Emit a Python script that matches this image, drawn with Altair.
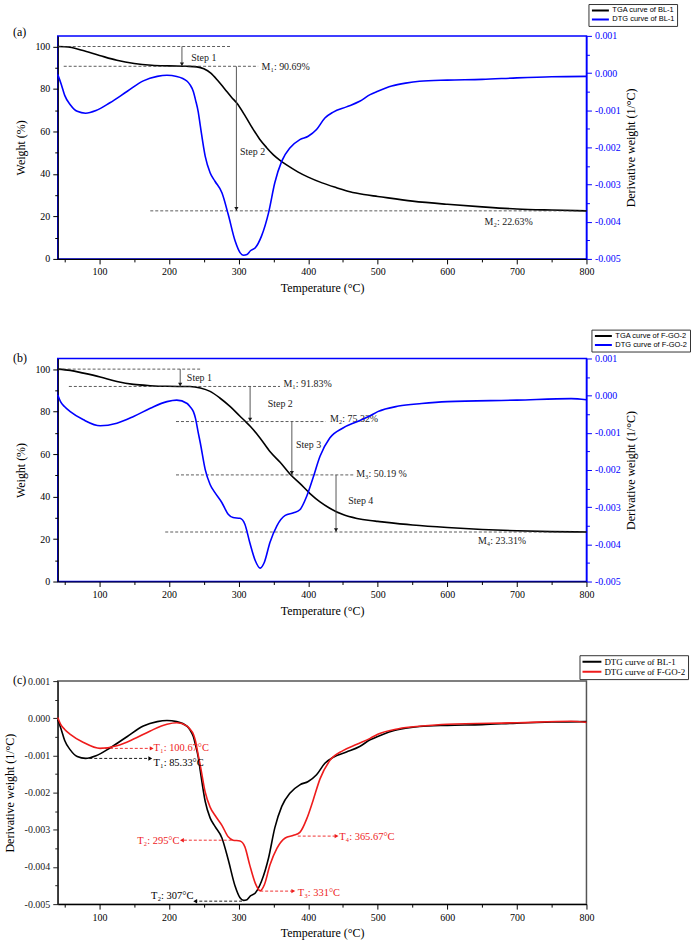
import altair as alt
import pandas as pd

SERIF = "Liberation Serif"
SANS = "Liberation Sans"
BLUE = "#0000ff"
RED = "#ee1c1c"
INK = "#1a1a1a"

# ---------------- BL-1 ----------------
bl_tga_temp = [40, 50, 60, 75, 100, 125, 150, 175, 200, 225, 240, 250, 260, 270, 280,
               290, 297, 310, 320, 330, 340, 350, 360, 370, 385, 400, 420, 440, 460,
               480, 500, 550, 600, 650, 700, 750, 800]
bl_tga_weight = [100, 99.9, 99.5, 98.2, 95.8, 93.5, 92.0, 91.2, 90.9, 90.7, 90.4, 89.5,
                 87.5, 84.0, 80.0, 76.0, 73.5, 67.0, 61.5, 56.5, 52.5, 49.0, 46.3, 44.0,
                 41.0, 38.5, 35.8, 33.6, 31.6, 30.3, 29.4, 27.2, 25.7, 24.5, 23.5, 23.0,
                 22.63]
bl_dtg_temp = [40, 45, 50, 58, 68, 80, 95, 115, 140, 163, 183, 197, 211, 226, 230, 235,
               238, 242, 245, 252, 259, 266, 276, 285, 295, 302, 307, 312, 317, 324, 333,
               343, 352, 362, 374, 388, 400, 412, 424, 436, 455, 474, 489, 500, 520, 540,
               560, 600, 650, 700, 750, 800]
bl_dtg = [-0.00004, -0.0003, -0.0006, -0.00085, -0.00103, -0.00108, -0.00101, -0.0008,
          -0.00049, -0.00021, -0.00009, -0.00006, -0.00009, -0.00022, -0.00031, -0.0005,
          -0.00072, -0.00105, -0.00143, -0.00224, -0.00268, -0.00291, -0.00322, -0.0038,
          -0.00452, -0.00483, -0.0049, -0.00488, -0.00478, -0.0047, -0.00438, -0.00376,
          -0.00295, -0.00237, -0.00201, -0.00179, -0.0017, -0.00152, -0.00121, -0.00105,
          -0.00091, -0.00076, -0.00058, -0.00049, -0.00035, -0.00027, -0.00022, -0.00019,
          -0.00017, -0.00013, -0.0001, -0.00009]

# ---------------- F-GO-2 ----------------
fgo_tga_temp = [40, 58, 77, 101, 125, 149, 173, 197, 230, 245, 259, 273, 288, 302, 310,
                317, 331, 345, 360, 374, 388, 403, 417, 431, 450, 470, 489, 500, 550, 600,
                650, 700, 750, 800]
fgo_tga_weight = [100, 99.4, 98.1, 96.3, 94.2, 92.8, 92.2, 91.9, 91.8, 91.1, 89.5, 86.4,
                  82.3, 77.8, 75.3, 73.0, 67.5, 61.2, 56.0, 50.5, 46.2, 41.3, 37.5, 34.5,
                  31.5, 29.7, 28.7, 28.3, 26.6, 25.4, 24.5, 23.9, 23.5, 23.31]
fgo_dtg_temp = [40, 44, 50, 58, 77, 101, 125, 149, 173, 197, 211, 226, 230, 235, 238, 242,
                245, 252, 259, 266, 276, 285, 292, 302, 309, 316, 324, 331, 337, 345, 355,
                367, 379, 388, 398, 407, 417, 431, 450, 470, 489, 500, 530, 563, 600, 700,
                778, 800]
fgo_dtg = [0.00002, -0.00016, -0.0003, -0.00043, -0.00065, -0.00081, -0.00074, -0.00056,
           -0.00034, -0.00016, -0.00012, -0.00021, -0.00029, -0.00043, -0.00061, -0.001,
           -0.00128, -0.00199, -0.00239, -0.00261, -0.00288, -0.00319, -0.00328, -0.0033,
           -0.00346, -0.00395, -0.00444, -0.00464, -0.00448, -0.00395, -0.0035, -0.00322,
           -0.00315, -0.00307, -0.0027, -0.00221, -0.00163, -0.00114, -0.00087, -0.0007,
           -0.00054, -0.00043, -0.00028, -0.00021, -0.00016, -0.00012, -0.00008, -0.00011]

# ---------------- annotations, panel (a) ----------------
a_level_y = [100, 90.69, 22.63]
a_level_from = [40, 48.6, 173]
a_level_to = [290, 328, 800]
a_step_x = [218.5, 296.8]
a_step_top = [100, 90.69]
a_step_bottom = [90.69, 22.63]
a_note_text = ["Step 1", "Step 2", "M\u2081: 90.69%", "M\u2082: 22.63%"]
a_note_x = [232, 302, 333, 653.6]
a_note_y = [94.7, 50.5, 90.4, 17.5]

# ---------------- annotations, panel (b) ----------------
b_level_y = [100, 91.83, 75.32, 50.19, 23.31]
b_level_from = [40, 56, 210, 210, 194.5]
b_level_to = [247, 359.5, 425, 466, 800]
b_step_x = [216, 316.5, 376.5, 440]
b_step_top = [100, 91.83, 75.32, 50.19]
b_step_bottom = [91.83, 75.32, 50.19, 23.31]
b_note_text = ["Step 1", "Step 2", "Step 3", "Step 4",
               "M\u2081: 91.83%", "M\u2082: 75.32%", "M\u2083: 50.19 %", "M\u2084: 23.31%"]
b_note_x = [225.6, 341.8, 382.5, 457.5, 364.5, 431.3, 469, 644]
b_note_y = [95.8, 83.6, 64.1, 38, 92.9, 76.3, 50.5, 18.9]

# ---------------- annotations, panel (c) ----------------
c_mark_color = ["red", "black", "red", "black", "red", "red"]
c_arrow_from = [100.67, 85.33, 290, 305, 331, 385]
c_arrow_to = [175, 173, 218.5, 237.6, 378.6, 440.8]
c_arrow_y = [-0.00081, -0.00108, -0.00328, -0.00492, -0.00465, -0.00317]
c_label_text = ["T\u2081: 100.67\u00b0C", "T\u2081: 85.33\u00b0C", "T\u2082: 295\u00b0C",
                "T\u2082: 307\u00b0C", "T\u2083: 331\u00b0C", "T\u2084: 365.67\u00b0C"]
c_label_x = [177.8, 177.8, 215, 235, 385, 444.5]
c_label_y = [-0.00081, -0.0012, -0.0033, -0.00478, -0.00469, -0.0032]
c_label_side = ["left", "left", "right", "right", "left", "left"]

PANEL_W, PANEL_H = 531, 224
TEMP_TITLE = "Temperature (\u00b0C)"
DTG_TITLE = "Derivative weight (1/\u00b0C)"


def tick_size(test):
    return {"condition": {"test": test, "value": 5}, "value": 3}


def axis_style(color="black", **kw):
    base = dict(labelFont=SERIF, labelFontSize=10, titleFont=SERIF, titleFontSize=12,
                titleFontWeight="normal", titleColor="black", grid=False, labelPadding=3,
                tickWidth=1, domainWidth=1.2, labelColor=color, tickColor=color,
                domainColor=color, labelOverlap=False, labelFlush=False, labelBound=False)
    base.update(kw)
    return alt.Axis(**base)


temp_axis = axis_style(values=list(range(50, 801, 50)),
                       labelExpr="datum.value % 100 === 0 ? datum.label : ''",
                       tickSize=tick_size("datum.value % 100 === 0"), titlePadding=6)
weight_axis = axis_style(values=list(range(0, 101, 10)),
                         labelExpr="datum.value % 20 === 0 ? datum.label : ''",
                         tickSize=tick_size("datum.value % 20 === 0"), titlePadding=7)
dtg_ticks = [round(i * 0.0005, 4) for i in range(-10, 3)]
DTG_MAJOR = "abs(round(datum.value * 10000)) % 10 === 0"
DTG_LABEL = (DTG_MAJOR + " ? (datum.value < 0 ? '-' : '') + "
             "format(abs(datum.value), '.3f') : ''")


def dtg_axis(orient, color, pad, **kw):
    return axis_style(color=color, orient=orient, values=dtg_ticks, labelExpr=DTG_LABEL,
                      tickSize=tick_size(DTG_MAJOR), titlePadding=pad, **kw)


x_scale = alt.Scale(domain=[40, 800], nice=False, zero=False)
w_scale = alt.Scale(domain=[0, 105], nice=False, zero=False)
d_scale = alt.Scale(domain=[-0.005, 0.001], nice=False, zero=False)


def temp_x(field):
    return alt.X(f"{field}:Q", scale=x_scale, axis=temp_axis, title=TEMP_TITLE)


def weight_y(field):
    return alt.Y(f"{field}:Q", scale=w_scale, axis=weight_axis, title="Weight (%)")


def legend(x, y, font, size, length=290):
    return alt.Legend(title=None, orient="none", legendX=x, legendY=y, symbolType="stroke",
                      symbolStrokeWidth=2, symbolSize=length, clipHeight=9, labelFont=font,
                      labelFontSize=size, labelColor="black", strokeColor="#333",
                      fillColor="white", padding=2, rowPadding=0, labelOffset=2)


def panel_title(tag, offset):
    return alt.TitleParams(tag, anchor="start", frame="group", dx=-45, offset=offset,
                           baseline="middle", font=SERIF, fontSize=12, fontWeight="normal")


def tga_panel(tag, tga_t, tga_w, dtg_t, dtg_v, names, levels, steps, notes, leg):
    tga_df = pd.DataFrame({"t": tga_t, "w": tga_w, "s": names[0]})
    dtg_df = pd.DataFrame({"t": dtg_t, "d": dtg_v, "s": names[1]})
    color = alt.Color("s:N", scale=alt.Scale(domain=names, range=["black", BLUE]),
                      legend=legend(*leg))

    tga_line = alt.Chart(tga_df).mark_line(strokeWidth=1.6, interpolate="monotone").encode(
        x=temp_x("t"), y=weight_y("w"), color=color)

    lv = pd.DataFrame({"y": levels[0], "x1": levels[1], "x2": levels[2]})
    level_rules = alt.Chart(lv).mark_rule(strokeDash=[3, 2], strokeWidth=0.8, color="#333").encode(
        x=temp_x("x1"), x2="x2", y=weight_y("y"))

    st = pd.DataFrame({"x": steps[0], "top": steps[1], "bottom": steps[2]})
    step_rules = alt.Chart(st).mark_rule(strokeWidth=0.9, color="#444").encode(
        x=temp_x("x"), y=weight_y("top"), y2="bottom")
    step_heads = alt.Chart(st).mark_point(shape="triangle-down", filled=True, size=18,
                                          color=INK, opacity=1, yOffset=-2).encode(
        x=temp_x("x"), y=weight_y("bottom"))

    nt = pd.DataFrame({"label": notes[0], "x": notes[1], "y": notes[2]})
    note_text = alt.Chart(nt).mark_text(align="left", baseline="middle", font=SERIF,
                                        fontSize=10, color=INK).encode(
        x=temp_x("x"), y=weight_y("y"), text="label:N")

    dtg_line = alt.Chart(dtg_df).mark_line(strokeWidth=1.6, interpolate="monotone").encode(
        x=temp_x("t"),
        y=alt.Y("d:Q", scale=d_scale,
                axis=dtg_axis("right", BLUE, 5, titleAngle=270, titleBaseline="top"),
                title=DTG_TITLE),
        color=color)

    left = alt.layer(tga_line, level_rules, step_rules, step_heads, note_text)
    return alt.layer(left, dtg_line).resolve_scale(y="independent").properties(
        width=PANEL_W, height=PANEL_H,
        view=alt.ViewBackground(stroke=BLUE, strokeWidth=1.5),
        title=panel_title(tag, -41))


panel_a = tga_panel("(a)", bl_tga_temp, bl_tga_weight, bl_dtg_temp, bl_dtg,
                    ["TGA curve of BL-1", "DTG curve of BL-1"],
                    (a_level_y, a_level_from, a_level_to),
                    (a_step_x, a_step_top, a_step_bottom),
                    (a_note_text, a_note_x, a_note_y),
                    (533, -32, SANS, 7.5))
panel_b = tga_panel("(b)", fgo_tga_temp, fgo_tga_weight, fgo_dtg_temp, fgo_dtg,
                    ["TGA curve of F-GO-2", "DTG curve of F-GO-2"],
                    (b_level_y, b_level_from, b_level_to),
                    (b_step_x, b_step_top, b_step_bottom),
                    (b_note_text, b_note_x, b_note_y),
                    (536, -29, SANS, 7.5))

# ---------------- panel (c): both DTG curves ----------------
c_names = ["DTG curve of BL-1", "DTG curve of F-GO-2"]
dtg_both = pd.concat([
    pd.DataFrame({"t": bl_dtg_temp, "d": bl_dtg, "s": c_names[0]}),
    pd.DataFrame({"t": fgo_dtg_temp, "d": fgo_dtg, "s": c_names[1]}),
])
c_y_axis = dtg_axis("left", "#222", 8)


def dtg_y(field):
    return alt.Y(f"{field}:Q", scale=d_scale, axis=c_y_axis, title=DTG_TITLE)


c_lines = alt.Chart(dtg_both).mark_line(strokeWidth=1.6, interpolate="monotone").encode(
    x=temp_x("t"), y=dtg_y("d"),
    color=alt.Color("s:N", scale=alt.Scale(domain=c_names, range=["black", RED]),
                    legend=legend(524, -26, SERIF, 9, 360)),
    order=alt.Order("s:N"))

c_colors = [RED if c == "red" else "black" for c in c_mark_color]
arrows = pd.DataFrame({
    "x1": c_arrow_from, "x2": c_arrow_to, "y": c_arrow_y, "c": c_colors,
    "head": ["triangle-right" if b > a else "triangle-left"
             for a, b in zip(c_arrow_from, c_arrow_to)],
})
c_arrow_rules = alt.Chart(arrows).mark_rule(strokeDash=[3, 2], strokeWidth=0.9).encode(
    x=temp_x("x1"), x2="x2", y=dtg_y("y"), color=alt.Color("c:N", scale=None))
c_arrow_heads = alt.Chart(arrows).mark_point(filled=True, size=20, opacity=1).encode(
    x=temp_x("x2"), y=dtg_y("y"), color=alt.Color("c:N", scale=None),
    shape=alt.Shape("head:N", scale=None))

labels = pd.DataFrame({"label": c_label_text, "x": c_label_x, "y": c_label_y,
                       "c": c_colors, "side": c_label_side})
c_text_left = alt.Chart(labels).transform_filter("datum.side === 'left'").mark_text(
    align="left", baseline="middle", font=SERIF, fontSize=10.5).encode(
    x=temp_x("x"), y=dtg_y("y"), text="label:N", color=alt.Color("c:N", scale=None))
c_text_right = alt.Chart(labels).transform_filter("datum.side === 'right'").mark_text(
    align="right", baseline="middle", font=SERIF, fontSize=10.5).encode(
    x=temp_x("x"), y=dtg_y("y"), text="label:N", color=alt.Color("c:N", scale=None))

panel_c = alt.layer(c_lines, c_arrow_rules, c_arrow_heads, c_text_left, c_text_right).properties(
    width=PANEL_W, height=PANEL_H,
    view=alt.ViewBackground(stroke="#555", strokeWidth=1.5),
    title=panel_title("(c)", -37))

chart = alt.vconcat(panel_a, panel_b, panel_c, spacing=100, bounds="flush").resolve_scale(
    color="independent").properties(
    padding={"left": 2, "top": 0, "right": 2, "bottom": 2}, background="white")

chart.save("out.html", embed_options={"renderer": "svg", "actions": False})
